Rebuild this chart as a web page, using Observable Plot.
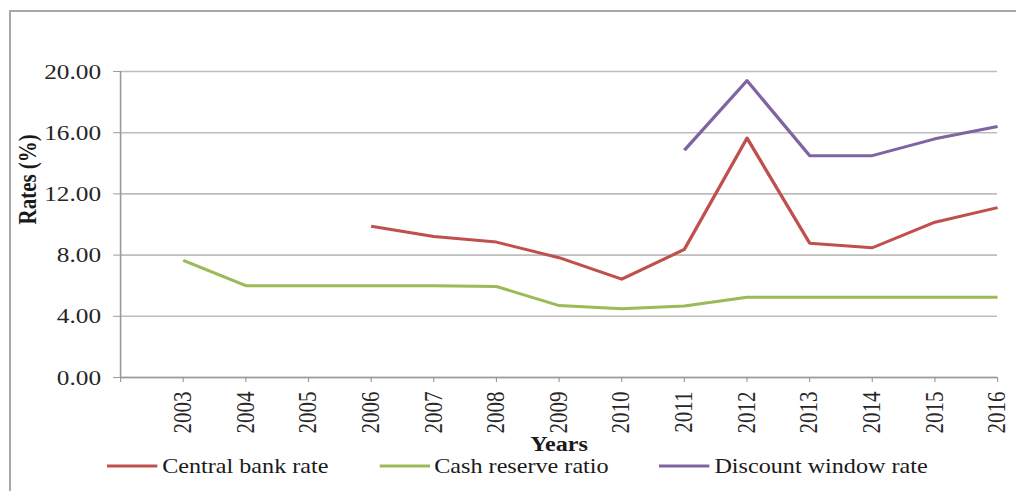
<!DOCTYPE html>
<html>
<head>
<meta charset="utf-8">
<script src="https://cdn.jsdelivr.net/npm/d3@7"></script>
<script src="https://cdn.jsdelivr.net/npm/@observablehq/plot@0.6"></script>
<style>
  html, body { margin: 0; padding: 0; background: #fff; }
  body { width: 1016px; height: 491px; overflow: hidden; position: relative; font-family: "Liberation Serif", "Times New Roman", serif; }
  #chart { position: absolute; left: 0; top: 0; }
  #frame { position: absolute; left: 9px; top: 10px; width: 1100px; height: 600px;
           border-left: 2px solid #a8a8a8; border-top: 2px solid #a8a8a8; pointer-events: none; }
  #legend { position: absolute; left: 0; top: 454px; height: 24px; transform: scaleX(1.15); transform-origin: 0 0;
            display: flex; align-items: center; padding-left: 93px; font-size: 21px; color: #1a1a1a; white-space: nowrap; }
  .item { display: flex; align-items: center; margin-right: 44px; }
  .item svg { display: block; margin-right: 4px; }
</style>
</head>
<body>
<div id="chart"></div>
<div id="legend"></div>
<div id="frame"></div>
<script>
// Years on the horizontal axis
const years = [2003, 2004, 2005, 2006, 2007, 2008, 2009, 2010, 2011, 2012, 2013, 2014, 2015, 2016];

// Rates in percent (null where the series has no value yet)
const centralBankRate   = [null, null, null, 9.88, 9.22, 8.85, 7.83, 6.43, 8.37, 15.65, 8.78, 8.48, 10.15, 11.1];
const cashReserveRatio  = [7.66, 6.0, 6.0, 6.0, 6.0, 5.95, 4.7, 4.5, 4.67, 5.25, 5.25, 5.25, 5.25, 5.25];
const discountWindowRate = [null, null, null, null, null, null, null, null, 14.85, 19.4, 14.5, 14.5, 15.6, 16.4];

// Axis ticks
const yTicks = [0, 4, 8, 12, 16, 20];
const xStart = 2002;

// Series names and colours
const seriesNames = ["Central bank rate", "Cash reserve ratio", "Discount window rate"];
const seriesColors = ["#c0504d", "#9bbb59", "#8064a2"];
const seriesValues = [centralBankRate, cashReserveRatio, discountWindowRate];

// Long table built from the arrays above
const rows = seriesNames.flatMap((name, i) =>
  years.map((year, j) => ({ series: name, year, rate: seriesValues[i][j] }))
);

// The chart is laid out in a narrower coordinate space and stretched horizontally
const stretch = 1.15;
const outW = 1016, outH = 491;
const W = outW / stretch;

const font = "Liberation Serif";

const plot = Plot.plot({
  width: W,
  height: outH,
  marginLeft: 120 / stretch,
  marginRight: 19 / stretch,
  marginTop: 71,
  marginBottom: 114,
  style: { fontFamily: font, fontSize: "22px", background: "transparent", color: "#1a1a1a" },
  x: { type: "linear", domain: [xStart, years[years.length - 1]] },
  y: { domain: [yTicks[0], yTicks[yTicks.length - 1]] },
  color: { domain: seriesNames, range: seriesColors },
  marks: [
    Plot.gridY(yTicks, { stroke: "#bdbdbd", strokeOpacity: 1, strokeWidth: 1.6 }),
    Plot.ruleX([xStart], { stroke: "#9a9a9a", strokeWidth: 1.4 }),
    Plot.ruleY([0], { stroke: "#9a9a9a", strokeWidth: 1.6 }),
    Plot.axisY({
      ticks: yTicks,
      tickFormat: d => d.toFixed(2),
      tickSize: 6,
      tickPadding: 11,
      fontSize: 22,
      stroke: "#9a9a9a",
      fill: "#262626",
      label: null
    }),
    Plot.axisX({
      ticks: [xStart, ...years],
      tickFormat: d => (d === xStart ? "" : String(d)),
      tickRotate: -90,
      tickSize: 5,
      tickPadding: 9,
      fontSize: 21,
      stroke: "#9a9a9a",
      fill: "#262626",
      label: null
    }),
    Plot.text(["Rates (%)"], {
      frameAnchor: "left", dx: -80, rotate: -90,
      fontWeight: "bold", fontSize: 21, fill: "#1a1a1a"
    }),
    Plot.text(["Years"], {
      frameAnchor: "bottom", dy: 73,
      fontWeight: "bold", fontSize: 21, fill: "#1a1a1a"
    }),
    Plot.line(rows, {
      x: "year", y: "rate", z: "series", stroke: "series",
      strokeWidth: 3, strokeLinejoin: "round", strokeLinecap: "butt",
      defined: d => d.rate != null
    })
  ]
});

plot.setAttribute("width", outW);
plot.setAttribute("height", outH);
plot.setAttribute("preserveAspectRatio", "none");
plot.style.width = outW + "px";
plot.style.height = outH + "px";
plot.style.maxWidth = "none";
document.getElementById("chart").appendChild(plot);

// Legend below the axis title
const legend = document.getElementById("legend");
seriesNames.forEach((name, i) => {
  const item = document.createElement("div");
  item.className = "item";
  item.innerHTML =
    `<svg width="44" height="6"><line x1="0" x2="44" y1="3" y2="3" stroke="${seriesColors[i]}" stroke-width="3"/></svg>` +
    `<span>${name}</span>`;
  legend.appendChild(item);
});
</script>
</body>
</html>
